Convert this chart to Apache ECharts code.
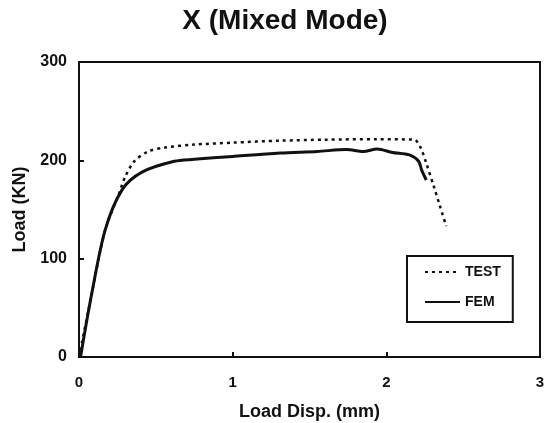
<!DOCTYPE html>
<html>
<head>
  <meta charset="utf-8" />
  <script src="https://cdn.jsdelivr.net/npm/echarts@6/dist/echarts.min.js"></script>
  <style>
    html, body { margin: 0; padding: 0; background: #fff; }
    #chart { width: 557px; height: 423px; }
  </style>
</head>
<body>
  <div id="chart"></div>
  <script>
    // load displacement (mm) vs load (KN)
    var testDisp = [0, 0.08, 0.17, 0.26, 0.30, 0.36, 0.45, 0.56, 0.75, 1.0, 1.31, 1.6, 1.94, 2.18, 2.22, 2.26, 2.31, 2.35, 2.39];
    var testLoad = [0, 62, 129, 166, 183, 199, 209, 213, 216, 218, 220, 221, 221.5, 221, 214, 197, 173, 153, 133];

    var femDisp = [0.01, 0.08, 0.17, 0.28, 0.41, 0.62, 0.75, 1.0, 1.31, 1.55, 1.74, 1.85, 1.94, 2.04, 2.15, 2.21, 2.23, 2.26];
    var femLoad = [0, 62, 129, 170, 188, 199, 201, 204, 207.5, 209, 211, 209, 211.5, 208, 205.5, 199, 190, 180];

    var xTicks = [0, 1, 2, 3];
    var yTicks = [0, 100, 200, 300];

    function pairs(xs, ys) {
      var out = [];
      for (var i = 0; i < xs.length; i++) out.push([xs[i], ys[i]]);
      return out;
    }

    var font = 'Liberation Sans';
    var ink = '#111';
    var chart = echarts.init(document.getElementById('chart'));

    chart.setOption({
      animation: false,
      title: {
        text: 'X (Mixed Mode)',
        left: 280, top: 2, textAlign: 'center',
        textStyle: { fontFamily: font, fontWeight: 'bold', fontSize: 28, color: ink }
      },
      grid: {
        left: 79, right: 17, top: 62, bottom: 66,
        outerBoundsMode: 'none',
        show: true, borderColor: ink, borderWidth: 2
      },
      legend: {
        orient: 'vertical',
        left: 407, top: 256,
        padding: [9, 12, 13, 17],
        itemGap: 16,
        itemWidth: 35, itemHeight: 14,
        borderColor: ink, borderWidth: 2,
        itemStyle: { color: 'rgba(0,0,0,0)', borderWidth: 0 },
        textStyle: { fontFamily: font, fontWeight: 'bold', fontSize: 14, color: ink },
        data: ['TEST', 'FEM']
      },
      xAxis: {
        type: 'value', min: 0, max: 3, interval: 1,
        name: 'Load Disp. (mm)', nameLocation: 'middle', nameGap: 46,
        nameTextStyle: { fontFamily: font, fontWeight: 'bold', fontSize: 18, color: ink },
        axisLine: { lineStyle: { color: ink, width: 2 } },
        axisTick: { inside: true, length: 5, lineStyle: { color: ink, width: 2 } },
        axisLabel: {
          margin: 18, fontFamily: font, fontWeight: 'bold', fontSize: 15, color: ink,
          formatter: function (v) { return xTicks.indexOf(v) >= 0 ? String(v) : ''; }
        },
        splitLine: { show: false }
      },
      yAxis: {
        type: 'value', min: 0, max: 300, interval: 100,
        name: 'Load (KN)', nameLocation: 'middle', nameGap: 50,
        nameTextStyle: { fontFamily: font, fontWeight: 'bold', fontSize: 18, color: ink },
        axisLine: { lineStyle: { color: ink, width: 2 } },
        axisTick: { inside: true, length: 5, lineStyle: { color: ink, width: 2 } },
        axisLabel: {
          margin: 12, fontFamily: font, fontWeight: 'bold', fontSize: 16, color: ink,
          formatter: function (v) { return yTicks.indexOf(v) >= 0 ? String(v) : ''; }
        },
        splitLine: { show: false }
      },
      series: [
        {
          name: 'TEST', type: 'line', data: pairs(testDisp, testLoad),
          smooth: 0.3, showSymbol: false, symbol: 'none',
          lineStyle: { color: ink, width: 2.5, type: [3, 4] },
          itemStyle: { color: ink }
        },
        {
          name: 'FEM', type: 'line', data: pairs(femDisp, femLoad),
          smooth: 0.3, showSymbol: false, symbol: 'none',
          lineStyle: { color: ink, width: 3 },
          itemStyle: { color: ink }
        }
      ]
    });
  </script>
</body>
</html>
